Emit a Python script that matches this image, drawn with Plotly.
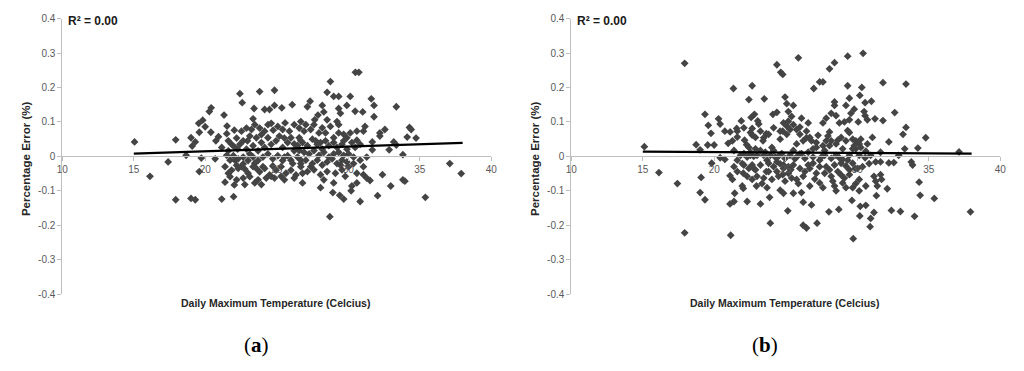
import plotly.graph_objects as go

# ---------------- data: panel (a) ----------------
a_temp = [
    15.05, 16.13, 17.40, 17.93, 17.93, 18.66, 19.00, 19.08, 19.00, 19.30,
    19.30, 19.54, 19.82, 19.58, 19.72, 19.58, 19.99, 20.28, 20.41, 20.39,
    20.74, 20.69, 20.92, 21.15, 21.31, 21.50, 21.52, 21.15, 21.38, 21.61,
    22.03, 22.03, 21.98, 22.19, 22.26, 22.42, 22.58, 22.76, 22.65, 22.95,
    23.23, 23.41, 23.34, 23.46, 23.80, 24.15, 24.49, 24.84, 24.84, 25.35,
    26.08, 24.38, 24.75, 25.58, 25.53, 24.03, 24.61, 25.30, 24.72, 23.92,
    25.99, 25.53, 26.22, 23.46, 23.57, 22.76, 21.73, 21.50, 22.07, 22.30,
    21.61, 21.84, 22.07, 22.42, 22.65, 22.88, 23.11, 23.34, 23.69, 23.92,
    24.15, 24.38, 24.61, 24.95, 25.18, 25.41, 25.76, 25.99, 26.22, 26.45,
    26.68, 21.61, 21.96, 22.30, 22.65, 22.99, 23.34, 23.69, 24.03, 24.38,
    24.72, 25.07, 25.41, 25.76, 26.11, 26.45, 21.38, 21.84, 22.19, 22.53,
    22.99, 23.34, 23.80, 24.15, 24.49, 24.95, 25.30, 25.64, 25.99, 26.34,
    26.68, 21.73, 22.19, 22.65, 23.11, 23.69, 24.26, 24.84, 25.53, 26.22,
    23.46, 23.80, 24.15, 24.61, 25.07, 25.41, 25.88, 26.22, 26.57, 22.53,
    22.88, 23.11, 23.57, 23.92,
]
a_err = [
    0.042, -0.058, -0.016, 0.048, -0.126, 0.003, 0.054, 0.030, -0.122, -0.126,
    0.042, 0.096, 0.105, 0.070, -0.005, -0.044, 0.086, 0.130, 0.141, 0.070,
    0.045, -0.007, 0.057, 0.026, 0.120, 0.066, 0.088, -0.124, -0.075, -0.049,
    0.076, -0.083, -0.117, 0.053, 0.021, 0.182, 0.156, -0.082, -0.022, 0.045,
    0.078, 0.139, 0.109, -0.077, 0.188, 0.136, 0.136, 0.192, 0.148, 0.141,
    0.150, 0.092, 0.076, 0.097, 0.053, -0.030, -0.058, -0.058, -0.028, -0.082,
    -0.011, -0.002, 0.036, -0.020, -0.035, -0.037, -0.011, 0.003, -0.011, -0.035,
    0.045, 0.035, 0.026, 0.035, 0.045, 0.021, 0.007, 0.031, 0.016, 0.040,
    0.026, 0.054, 0.035, 0.045, 0.059, 0.026, 0.040, 0.054, 0.016, 0.031,
    0.045, 0.016, 0.002, -0.007, -0.002, -0.012, -0.002, -0.012, -0.002, 0.007,
    -0.007, 0.002, -0.012, 0.002, -0.021, -0.002, -0.030, -0.040, -0.026, -0.030,
    -0.049, -0.030, -0.045, -0.035, -0.054, -0.040, -0.030, -0.049, -0.040, -0.054,
    -0.030, -0.059, -0.068, -0.063, -0.059, -0.068, -0.063, -0.063, -0.068, -0.063,
    0.092, 0.082, 0.073, 0.096, 0.087, 0.078, 0.073, 0.092, 0.082, 0.073,
    0.082, 0.059, 0.054, 0.063,
]
a_temp_hot = [
    30.50, 30.74, 28.75, 28.52, 28.98, 29.33, 30.14, 27.33, 27.14, 28.18,
    28.29, 29.33, 29.90, 29.45, 30.48, 31.01, 31.61, 31.80, 31.80, 33.36,
    27.88, 27.65, 29.21, 29.33, 28.52, 26.91, 27.37, 28.18, 28.75, 29.33,
    30.60, 31.17, 31.06, 32.21, 32.56, 32.21, 34.28, 34.40, 34.12, 34.74,
    33.18, 33.36, 32.86, 31.68, 31.68, 30.60, 29.90, 29.68, 33.82, 27.72,
    28.06, 26.68, 26.80, 26.80, 27.37, 28.06, 28.29, 28.92, 28.98, 29.40,
    29.68, 30.20, 30.25, 30.60, 30.83, 30.60, 29.90, 30.02, 30.83, 31.06,
    31.29, 31.06, 31.29, 31.52, 32.05, 32.39, 32.97, 33.82, 33.96, 35.39,
    37.10, 37.90, 28.71, 29.45,
    26.57, 26.80, 27.14, 27.49, 27.83, 28.18, 28.41, 28.64, 28.98, 29.21,
    29.56, 29.91, 30.25, 30.48, 30.83, 26.57, 26.91, 27.26, 27.60, 27.95,
    28.29, 28.64, 28.98, 29.33, 29.68, 30.02, 30.37, 26.68, 27.03, 27.49,
    27.83, 28.18, 28.52, 28.87, 29.21, 29.56, 30.37, 27.14, 27.60, 28.06,
    28.52, 29.10, 29.56, 29.79, 26.68, 27.03, 27.60, 27.95, 28.41, 28.98,
    29.68, 30.14,
]
a_err_hot = [
    0.244, 0.244, 0.217, 0.186, 0.174, 0.174, 0.174, 0.160, 0.144, 0.148,
    0.129, 0.139, 0.148, 0.125, 0.131, 0.129, 0.167, 0.148, 0.115, 0.144,
    0.120, 0.106, 0.101, 0.092, 0.106, 0.073, 0.078, 0.083, 0.087, 0.068,
    0.073, 0.087, 0.073, 0.068, 0.078, 0.059, 0.084, 0.078, 0.056, 0.053,
    0.042, 0.033, 0.019, 0.042, 0.019, 0.047, 0.054, 0.045, 0.005, 0.045,
    0.040, -0.011, -0.049, -0.077, -0.030, -0.091, -0.068, -0.105, -0.077, -0.113,
    -0.124, -0.100, -0.086, -0.077, -0.131, -0.049, -0.016, -0.030, -0.011, -0.030,
    -0.002, -0.053, -0.063, -0.070, -0.114, -0.053, -0.086, -0.068, -0.072, -0.119,
    -0.021, -0.050, -0.175, -0.025,
    0.054, 0.040, 0.031, 0.050, 0.035, 0.021, 0.045, 0.031, 0.040, 0.026,
    0.035, 0.021, 0.040, 0.026, 0.035, 0.017, 0.012, 0.007, 0.017, 0.003,
    0.012, -0.002, 0.007, 0.012, 0.003, 0.007, -0.002, -0.021, -0.011, -0.021,
    -0.011, -0.025, -0.016, -0.007, -0.021, -0.011, -0.021, -0.044, -0.039, -0.053,
    -0.044, -0.049, -0.039, -0.058, 0.101, 0.092, 0.092, 0.068, 0.068, 0.054,
    0.064, 0.068,
]
a_trend_x = [15, 38]
a_trend_y = [0.008, 0.039]

# ---------------- data: panel (b) ----------------
b_temp = [
    15.11, 16.13, 17.93, 17.42, 17.93, 18.73, 19.01, 19.08, 19.01, 19.35,
    19.35, 19.58, 19.77, 19.54, 19.99, 19.82, 20.30, 20.41, 20.74, 20.41,
    20.74, 21.34, 21.11, 21.27, 21.57, 21.61, 20.97, 21.38, 21.61, 21.38,
    21.10, 21.27, 21.43, 21.10, 21.38, 21.15, 21.89, 22.12, 22.26, 22.42,
    21.96, 22.03, 21.96, 22.03, 22.30, 22.42, 22.65, 22.58, 22.81, 23.04,
    23.11, 22.65, 22.65, 22.88, 22.53, 22.76, 22.65, 22.76, 22.95, 23.23,
    23.34, 23.50, 23.46, 23.41, 23.64, 23.46, 23.69, 23.64, 23.80, 23.69,
    23.87, 23.92, 24.10, 24.38, 24.03, 24.38, 24.65, 24.79, 24.49, 24.61,
    24.79, 24.84, 24.95, 25.07, 25.18, 25.41, 25.53, 24.84, 25.18, 24.79,
    24.61, 25.07, 25.30, 25.76, 25.99, 26.10, 25.88, 25.14, 26.22, 25.53,
    25.88, 26.10, 26.22, 25.18, 25.35, 24.84, 25.64, 25.99, 25.76, 26.22,
    26.45, 24.38, 24.61,
    21.84, 22.07, 22.30, 22.53, 22.99, 23.23, 23.57, 23.92, 24.15, 24.26,
    24.72, 24.95, 25.30, 25.53, 25.76, 26.11, 26.34, 26.57, 22.07, 22.42,
    22.88, 23.23, 23.80, 24.15, 24.38, 24.84, 25.18, 25.53, 25.99, 26.34,
    26.57, 21.61, 22.30, 22.65, 22.99, 23.46, 24.03, 24.49, 24.95, 25.41,
    25.76, 26.22, 21.61, 22.07, 22.53, 22.88, 23.23, 23.80, 24.15, 24.61,
    25.07, 25.53, 25.99, 26.45, 26.57,
]
b_err = [
    0.028, -0.047, 0.270, -0.079, -0.222, 0.034, 0.019, -0.061, -0.105, -0.126,
    0.122, 0.090, 0.067, 0.033, 0.033, -0.020, 0.109, 0.094, 0.073, -0.004,
    -0.009, 0.197, 0.071, 0.045, 0.081, 0.056, 0.038, 0.017, -0.011, -0.030,
    -0.056, -0.067, -0.107, -0.138, -0.131, -0.229, 0.103, 0.047, 0.034, 0.026,
    -0.021, -0.049, -0.086, -0.093, -0.131, 0.165, 0.205, 0.113, 0.122, 0.103,
    0.094, 0.081, 0.062, 0.022, 0.003, 0.000, -0.025, -0.035, -0.086, -0.138,
    -0.079, 0.167, 0.054, 0.045, 0.066, 0.003, -0.011, -0.044, -0.044, -0.091,
    -0.119, -0.194, 0.122, 0.128, 0.026, 0.266, 0.244, 0.238, 0.000, -0.098,
    -0.053, -0.107, 0.172, 0.153, 0.130, 0.116, 0.148, 0.097, 0.102, 0.073,
    0.050, 0.064, 0.078, 0.078, 0.085, 0.111, 0.286, -0.158, -0.200, -0.107,
    -0.079, -0.105, -0.133, -0.030, -0.039, -0.025, -0.007, 0.007, 0.036, 0.045,
    0.054, -0.016, -0.022,
    0.003, 0.008, -0.002, 0.012, 0.003, 0.017, 0.012, 0.003, 0.017, -0.002,
    0.008, -0.006, 0.003, 0.017, -0.002, 0.008, -0.006, 0.012, -0.025, -0.035,
    -0.039, -0.025, -0.020, -0.030, -0.044, -0.035, -0.049, -0.025, -0.035, -0.044,
    -0.025, -0.044, -0.058, -0.067, -0.058, -0.063, -0.067, -0.058, -0.072, -0.063,
    -0.067, -0.058, 0.073, 0.083, 0.069, 0.055, 0.073, 0.064, 0.083, 0.073,
    0.088, 0.092, 0.064, 0.073, 0.097,
]
b_temp_hot = [
    30.41, 29.33, 28.41, 28.06, 27.37, 27.60, 26.96, 29.33, 30.32, 31.80,
    33.41, 30.18, 29.45, 28.41, 28.41, 29.21, 30.55, 30.99, 29.79, 29.56,
    28.18, 28.52, 27.83, 27.60, 28.75, 29.10, 29.45, 30.07, 30.48, 30.55,
    30.71, 31.24, 31.80, 32.62, 33.41, 33.20, 32.21, 34.79, 34.24, 33.32,
    37.12, 29.33, 29.45, 28.06, 27.95, 27.26, 26.68, 28.64, 28.87, 29.68,
    29.90, 30.25, 30.14, 31.06, 31.63, 30.60, 29.90, 29.68, 27.83, 28.06,
    27.60, 27.14, 26.91, 27.49, 27.37, 28.75, 28.98, 29.45, 30.55, 31.29,
    31.63, 32.21, 32.56, 32.90, 33.78, 33.87, 30.83, 29.86, 30.02, 29.21,
    29.45, 28.64, 28.87, 26.68, 27.83, 28.06, 27.14, 27.03, 26.68, 27.60,
    27.37, 28.29, 28.41, 28.52, 28.98, 29.21, 29.68, 29.90, 30.14, 30.60,
    31.17, 31.29, 31.40, 31.34, 31.63, 31.70, 32.10, 34.33, 34.40, 35.39,
    26.80, 28.02, 28.71, 29.63, 30.21, 30.60, 30.18, 30.94, 31.17, 30.90,
    32.39, 33.02, 34.01, 37.92, 27.19, 29.72, 26.45,
    26.80, 27.14, 27.72, 28.18, 28.52, 28.98, 29.21, 29.79, 30.25, 30.71,
    26.91, 27.72, 28.18, 28.52, 29.33, 30.14, 30.94, 26.91, 27.37, 28.41,
    28.87, 29.68, 30.37, 27.72, 28.18, 29.10, 29.45, 30.14,
]
b_err_hot = [
    0.299, 0.291, 0.272, 0.254, 0.216, 0.216, 0.197, 0.205, 0.200, 0.214,
    0.210, 0.177, 0.169, 0.158, 0.148, 0.148, 0.156, 0.160, 0.137, 0.125,
    0.125, 0.118, 0.111, 0.097, 0.097, 0.100, 0.106, 0.100, 0.130, 0.118,
    0.106, 0.109, 0.104, 0.127, 0.084, 0.064, 0.042, 0.054, 0.024, 0.022,
    0.013, 0.075, 0.069, 0.071, 0.059, 0.061, 0.055, 0.047, 0.055, 0.050,
    0.045, 0.050, 0.036, 0.055, 0.012, 0.015, 0.022, 0.022, 0.045, 0.031,
    0.031, 0.040, 0.022, -0.002, -0.011, -0.004, -0.009, 0.003, -0.004, -0.016,
    -0.016, -0.019, -0.018, 0.003, -0.016, -0.025, -0.021, -0.035, -0.035, -0.028,
    -0.039, -0.044, -0.054, -0.035, -0.030, -0.039, -0.049, -0.066, -0.086, -0.091,
    -0.077, -0.072, -0.086, -0.100, -0.077, -0.091, -0.091, -0.079, -0.100, -0.086,
    -0.058, -0.072, -0.086, -0.114, -0.053, -0.067, -0.094, -0.075, -0.113, -0.122,
    -0.141, -0.161, -0.154, -0.128, -0.145, -0.142, -0.173, -0.180, -0.163, -0.204,
    -0.157, -0.160, -0.174, -0.161, -0.194, -0.239, -0.208,
    0.045, 0.026, 0.017, 0.045, 0.036, 0.022, 0.045, 0.031, 0.026, 0.036,
    -0.002, 0.003, -0.006, 0.003, -0.011, 0.003, 0.003, -0.020, -0.030, -0.025,
    -0.020, -0.020, -0.030, -0.049, -0.058, -0.063, -0.053, -0.067,
]
b_trend_x = [15, 38]
b_trend_y = [0.014, 0.008]

# ---------------- axis labels ----------------
x_ticks = [10, 15, 20, 25, 30, 35, 40]
y_ticks = [0.4, 0.3, 0.2, 0.1, 0, -0.1, -0.2, -0.3, -0.4]
y_tick_text = ["0.4", "0.3", "0.2", "0.1", "0", "-0.1", "-0.2", "-0.3", "-0.4"]
r2_label = "R² = 0.00"
y_title = "Percentage Error (%)"
x_title = "Daily Maximum Temperature (Celcius)"
panel_labels = ["a", "b"]

MARK = dict(symbol="diamond", size=6, color="#444444", line=dict(width=0))
AXCOL = "#bfbfbf"
TICKFONT = dict(family="Liberation Sans, Arial", size=10, color="#595959")

fig = go.Figure()

panels = [
    (a_temp + a_temp_hot, a_err + a_err_hot, a_trend_x, a_trend_y, "x", "y"),
    (b_temp + b_temp_hot, b_err + b_err_hot, b_trend_x, b_trend_y, "x2", "y2"),
]
for xs, ys, tx, ty, xa, ya in panels:
    fig.add_trace(go.Scatter(x=xs, y=ys, mode="markers", marker=MARK,
                             xaxis=xa, yaxis=ya, showlegend=False, hoverinfo="skip"))
    fig.add_trace(go.Scatter(x=tx, y=ty, mode="lines",
                             line=dict(color="black", width=2.2),
                             xaxis=xa, yaxis=ya, showlegend=False, hoverinfo="skip"))

W, H = 1024, 371
y_dom = [(371 - 298) / H, (371 - 14) / H]
zero_pos = (371 - 156) / H
x_doms = [[57 / W, 491 / W], [572 / W, 1006 / W]]


def xaxis_cfg(dom):
    return dict(domain=dom, range=[10, 40], tickvals=x_ticks, anchor="free",
                position=zero_pos, showline=True, linecolor=AXCOL, linewidth=1,
                ticks="outside", ticklen=4, tickcolor=AXCOL, tickfont=TICKFONT,
                showgrid=False, zeroline=False, fixedrange=True)


def yaxis_cfg(anchor):
    return dict(domain=y_dom, range=[-0.4, 0.4], tickvals=y_ticks, ticktext=y_tick_text,
                anchor=anchor, showline=True, linecolor=AXCOL, linewidth=1,
                ticks="outside", ticklen=4, tickcolor=AXCOL, tickfont=TICKFONT,
                showgrid=False, zeroline=False, fixedrange=True)


fig.update_layout(
    width=W, height=H, margin=dict(l=0, r=0, t=0, b=0),
    paper_bgcolor="white", plot_bgcolor="white",
    xaxis=xaxis_cfg(x_doms[0]), yaxis=yaxis_cfg("x"),
    xaxis2=xaxis_cfg(x_doms[1]), yaxis2=yaxis_cfg("x2"),
)

TITLEFONT = dict(family="Liberation Sans, Arial", size=11.5, color="#262626")
anns = []
for i, (dom, lab) in enumerate(zip(x_doms, panel_labels)):
    left_px = dom[0] * W
    anns.append(dict(text="<b>" + r2_label + "</b>", x=(left_px + 4) / W, y=(371 - 17) / H,
                     xref="paper", yref="paper", xanchor="left", yanchor="middle",
                     showarrow=False, font=dict(family="Liberation Sans, Arial", size=12, color="#1a1a1a")))
    anns.append(dict(text="<b>" + y_title + "</b>", x=(left_px - 36) / W, y=(371 - 158) / H,
                     xref="paper", yref="paper", xanchor="center", yanchor="middle", textangle=-90,
                     showarrow=False, font=TITLEFONT))
    anns.append(dict(text="<b>" + x_title + "</b>", x=(left_px + 216) / W, y=(371 - 307) / H,
                     xref="paper", yref="paper", xanchor="center", yanchor="middle",
                     showarrow=False, font=dict(family="Liberation Sans, Arial", size=10.5, color="#262626")))
    anns.append(dict(text="(<b>" + lab + "</b>)", x=(left_px + 196) / W, y=(371 - 350) / H,
                     xref="paper", yref="paper", xanchor="center", yanchor="middle",
                     showarrow=False, font=dict(family="Liberation Serif, Times New Roman", size=21, color="black")))
fig.update_layout(annotations=anns)

fig.write_html("out.html", config={"displayModeBar": False},
               post_script="document.body.style.margin='0px';document.body.style.padding='0px';")
